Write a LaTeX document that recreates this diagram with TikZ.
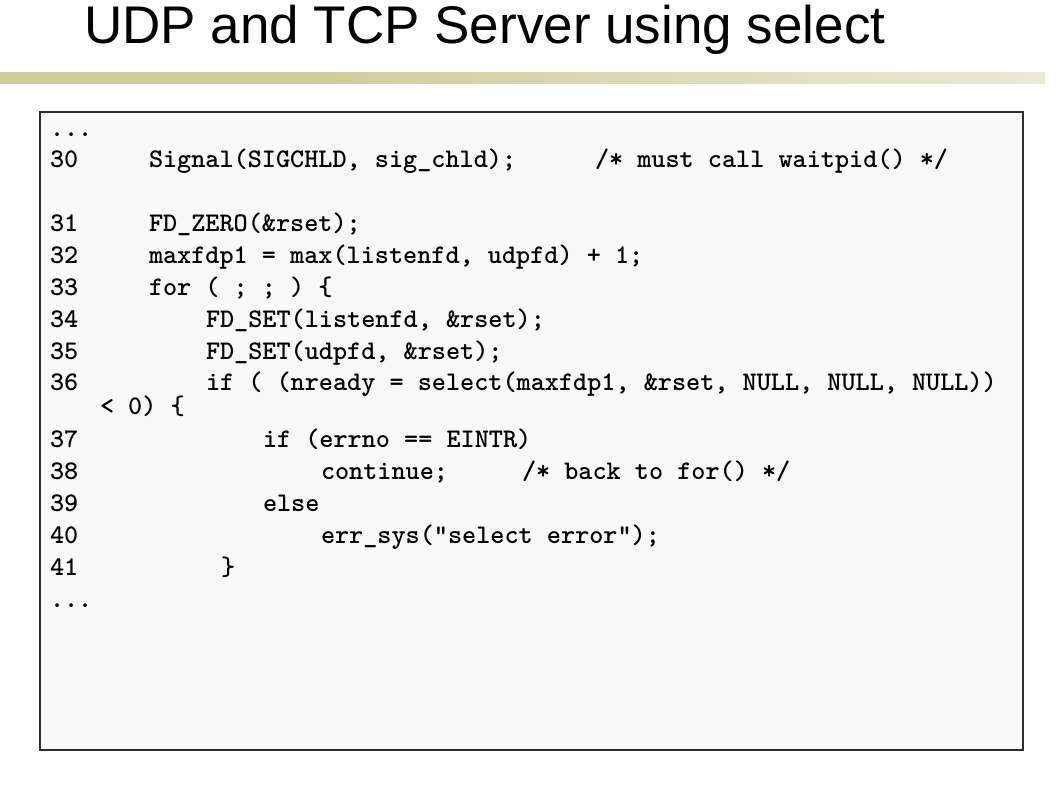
\documentclass[tikz,border=0pt]{standalone}
\usepackage{fontspec}
\setmainfont{Liberation Sans}
\definecolor{olive}{RGB}{204,204,153}
\definecolor{boxfill}{RGB}{249,249,249}
\definecolor{boxline}{RGB}{45,45,45}
\pgfdeclarehorizontalshading{barshade}{100bp}{color(0bp)=(olive); color(38.3bp)=(olive); color(100bp)=(white)}
\newcommand{\codefnt}{\ttfamily\bfseries\fontsize{26.9}{30}\selectfont}
\tikzset{
  codeline/.style={anchor=base west, inner sep=0pt, outer sep=0pt, font=\codefnt, text=black},
  titletext/.style={anchor=base west, inner sep=0pt, font=\fontsize{53}{60}\selectfont, text=black}
}
\begin{document}
\begin{tikzpicture}[x=1pt,y=-1pt]
\useasboundingbox (0,0) rectangle (1058,793);
\fill[white] (0,0) rectangle (1058,793);
% title
\node[titletext] (title) at (84,43) {UDP and TCP Server using select};
% bar
\shade[shading=barshade] (0,72) rectangle (1045,83);
% code box
\draw[boxline, fill=boxfill, line width=2pt] (40,112) rectangle (1023,750);
% code
\node[codeline] (d1) at (50,136) {...};
\node[codeline] (n30) at (50,167) {30};
\node[codeline] (c30) at (149,167) {Signal(SIGCHLD, sig\_chld);};
\node[codeline] (m30) at (595,167) {/* must call waitpid() */};
\node[codeline] (n31) at (50,231) {31};
\node[codeline] (c31) at (149,231) {FD\_ZERO(\&rset);};
\node[codeline] (n32) at (50,263) {32};
\node[codeline] (c32) at (149,263) {maxfdp1 = max(listenfd, udpfd) + 1;};
\node[codeline] (n33) at (50,295) {33};
\node[codeline] (c33) at (149,295) {for ( ; ; ) \{};
\node[codeline] (n34) at (50,327) {34};
\node[codeline] (c34) at (206,327) {FD\_SET(listenfd, \&rset);};
\node[codeline] (n35) at (50,359) {35};
\node[codeline] (c35) at (206,359) {FD\_SET(udpfd, \&rset);};
\node[codeline] (n36) at (50,390) {36};
\node[codeline] (c36) at (206,390) {if ( (nready = select(maxfdp1, \&rset, NULL, NULL, NULL))};
\node[codeline] (c36b) at (100,414) {< 0) \{};
\node[codeline] (n37) at (50,447) {37};
\node[codeline] (c37) at (263,447) {if (errno == EINTR)};
\node[codeline] (n38) at (50,479) {38};
\node[codeline] (c38) at (321,479) {continue;};
\node[codeline] (m38) at (522,479) {/* back to for() */};
\node[codeline] (n39) at (50,511) {39};
\node[codeline] (c39) at (263,511) {else};
\node[codeline] (n40) at (50,543) {40};
\node[codeline] (c40) at (321,543) {err\_sys("select error");};
\node[codeline] (n41) at (50,575) {41};
\node[codeline] (c41) at (221,575) {\}};
\node[codeline] (d2) at (50,607) {...};
\end{tikzpicture}
\end{document}
